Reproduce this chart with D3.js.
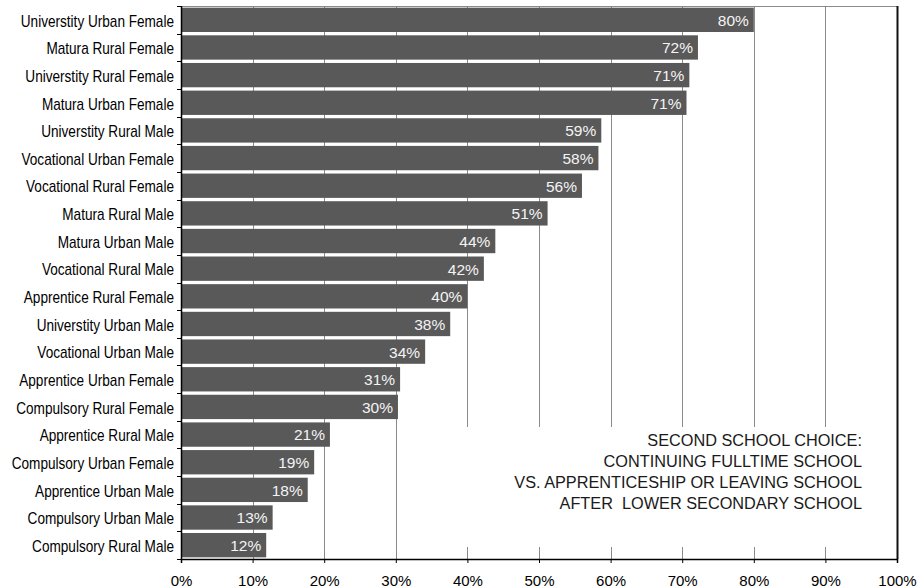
<!DOCTYPE html>
<html>
<head>
<meta charset="utf-8">
<script src="https://cdn.jsdelivr.net/npm/d3@7"></script>
<style>
  html, body { margin: 0; padding: 0; background: #fff; }
  svg { display: block; font-family: "Liberation Sans", Arial, sans-serif; }
</style>
</head>
<body>
<svg id="chart" width="922" height="588"></svg>
<script>
// Share continuing full-time school, by school type, area and sex
const categories = [
  "Universtity Urban Female", "Matura Rural Female", "Universtity Rural Female",
  "Matura Urban Female", "Universtity Rural Male", "Vocational Urban Female",
  "Vocational Rural Female", "Matura Rural Male", "Matura Urban Male",
  "Vocational Rural Male", "Apprentice Rural Female", "Universtity Urban Male",
  "Vocational Urban Male", "Apprentice Urban Female", "Compulsory Rural Female",
  "Apprentice Rural Male", "Compulsory Urban Female", "Apprentice Urban Male",
  "Compulsory Urban Male", "Compulsory Rural Male"
];
const values = [
  0.800, 0.722, 0.710, 0.706, 0.587, 0.583, 0.560, 0.512, 0.439, 0.423,
  0.400, 0.376, 0.341, 0.306, 0.303, 0.208, 0.186, 0.177, 0.128, 0.119
];
const xTicks = [0, 0.1, 0.2, 0.3, 0.4, 0.5, 0.6, 0.7, 0.8, 0.9, 1.0];
const noteLines = [
  "SECOND SCHOOL CHOICE:",
  "CONTINUING FULLTIME SCHOOL",
  "VS. APPRENTICESHIP OR LEAVING SCHOOL",
  "AFTER  LOWER SECONDARY SCHOOL"
];

const data = categories.map((c, i) => ({ cat: c, val: values[i] }));

const svg = d3.select("#chart");
const m = { left: 181, right: 897, top: 6, bottom: 559 };

const x = d3.scaleLinear().domain([0, 1]).range([m.left, m.right]);
const y = d3.scaleBand().domain(categories).range([m.top, m.bottom])
  .paddingInner(0.12).paddingOuter(0.06);
const fmt = d3.format(".0%");

// vertical gridlines
svg.append("g").selectAll("line").data(xTicks.slice(1, -1)).join("line")
  .attr("x1", d => Math.round(x(d)) + 0.5).attr("x2", d => Math.round(x(d)) + 0.5)
  .attr("y1", m.top).attr("y2", m.bottom)
  .attr("stroke", "#8a8a8a").attr("stroke-width", 1);

// top border
svg.append("line")
  .attr("x1", m.left).attr("x2", m.right).attr("y1", m.top + 0.5).attr("y2", m.top + 0.5)
  .attr("stroke", "#8a8a8a");

// bars
svg.append("g").selectAll("rect").data(data).join("rect")
  .attr("x", x(0))
  .attr("y", d => y(d.cat))
  .attr("width", d => x(d.val) - x(0))
  .attr("height", y.bandwidth())
  .attr("fill", "#595959");

// value labels inside bar ends
svg.append("g").selectAll("text").data(data).join("text")
  .attr("x", d => x(d.val) - 5)
  .attr("y", d => y(d.cat) + y.bandwidth() / 2)
  .attr("dy", "0.38em")
  .attr("text-anchor", "end")
  .attr("fill", "#f4f4f4")
  .attr("font-size", "15.5px")
  .text(d => fmt(d.val));

// note box covering the lower part of the grid
svg.append("rect")
  .attr("x", 420).attr("y", 427).attr("width", 470).attr("height", 120)
  .attr("fill", "#fff");
svg.append("g").selectAll("text").data(noteLines).join("text")
  .attr("x", 862)
  .attr("y", (d, i) => 446 + i * 21)
  .attr("text-anchor", "end")
  .attr("fill", "#1a1a1a")
  .attr("font-size", "16.3px")
  .style("white-space", "pre")
  .text(d => d);

// right border
svg.append("line")
  .attr("x1", m.right + 0.5).attr("x2", m.right + 0.5).attr("y1", m.top).attr("y2", m.bottom)
  .attr("stroke", "#111").attr("stroke-width", 2);

// y axis: ticks at band boundaries
const yAxis = svg.append("g");
yAxis.append("line")
  .attr("x1", m.left + 0.5).attr("x2", m.left + 0.5).attr("y1", m.top).attr("y2", m.bottom + 1)
  .attr("stroke", "#000").attr("stroke-width", 1.5);
const bounds = d3.range(categories.length + 1).map(i => m.top + i * (m.bottom - m.top) / categories.length);
yAxis.selectAll("line.tick").data(bounds).join("line").attr("class", "tick")
  .attr("x1", m.left - 4).attr("x2", m.left)
  .attr("y1", d => Math.round(d) + 0.5).attr("y2", d => Math.round(d) + 0.5)
  .attr("stroke", "#000");
// category labels, horizontally condensed
yAxis.selectAll("text").data(categories).join("text")
  .attr("transform", d => `translate(174,${y(d) + y.bandwidth() / 2}) scale(0.85,1)`)
  .attr("dy", "0.42em")
  .attr("text-anchor", "end")
  .attr("fill", "#000")
  .attr("font-size", "16px")
  .text(d => d);

// x axis
const xAxis = svg.append("g").attr("transform", `translate(0,${m.bottom})`)
  .call(d3.axisBottom(x).tickValues(xTicks).tickFormat(fmt).tickSize(4).tickPadding(12));
xAxis.select(".domain").attr("stroke", "#000").attr("stroke-width", 1.5);
xAxis.selectAll(".tick line").attr("stroke", "#000");
xAxis.selectAll(".tick text")
  .attr("font-size", "15px")
  .attr("font-family", "'Liberation Sans', Arial, sans-serif")
  .attr("fill", "#000");
</script>
</body>
</html>
